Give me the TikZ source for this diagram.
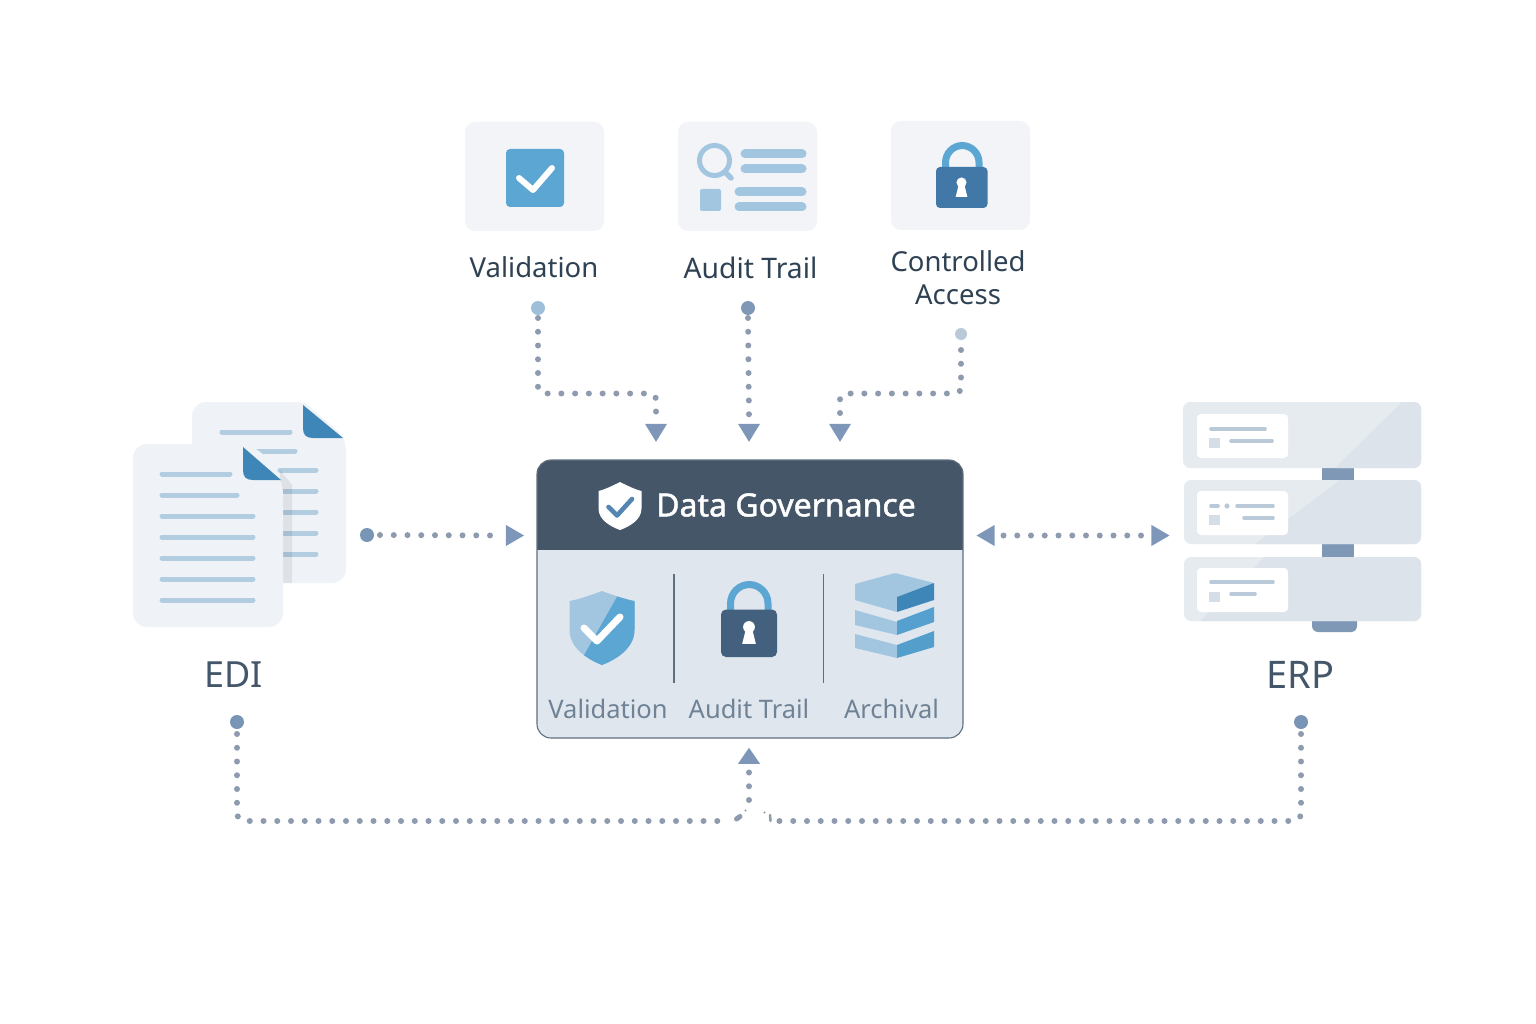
\documentclass[tikz,border=0pt]{standalone}
\usepackage{fontspec}
\setmainfont{Noto Sans}
\newfontfamily\govfont{Noto Sans}[FakeBold=1.4]
\usetikzlibrary{shapes.geometric}
\definecolor{cardc}{HTML}{F2F4F8}
\definecolor{dotc}{HTML}{8E9BAE}
\definecolor{arrc}{HTML}{7E97B8}
\definecolor{blueA}{HTML}{5BA6D3}
\definecolor{blueB}{HTML}{A3C6E0}
\definecolor{blueC}{HTML}{4278A8}
\definecolor{blueD}{HTML}{3F86B8}
\definecolor{darkh}{HTML}{445668}
\definecolor{bodyc}{HTML}{DFE6EE}
\definecolor{lockd}{HTML}{44607F}
\definecolor{txtA}{HTML}{2F4254}
\definecolor{txtB}{HTML}{44566A}
\definecolor{txtC}{HTML}{708295}
\definecolor{pagec}{HTML}{EFF3F7}
\definecolor{linec}{HTML}{B3CDE0}
\definecolor{rackA}{HTML}{E6EBF0}
\definecolor{rackB}{HTML}{DCE3EA}
\definecolor{rackl}{HTML}{B9C9D8}
\definecolor{racks}{HTML}{D5DEE7}
\definecolor{rackc}{HTML}{7F98B6}
\tikzset{
  dotline/.style={draw=dotc,line width=6pt,line cap=round,dash pattern=on 0pt off 13.75pt},
  tri/.style={isosceles triangle,isosceles triangle stretches,fill=arrc,draw=none,inner sep=0pt,minimum width=22pt,minimum height=18pt},
  tridown/.style={tri,shape border rotate=-90},
  triup/.style={tri,shape border rotate=90,minimum height=16pt},
  trileft/.style={tri,shape border rotate=180,minimum width=21pt},
  triright/.style={tri,shape border rotate=0,minimum width=21pt},
  pt/.style={circle,draw=none,inner sep=0pt,minimum size=#1},
  lbl/.style={inner sep=0pt,font=\fontsize{27.5}{32.5}\selectfont,text=txtA,align=center},
  inl/.style={inner sep=0pt,font=\fontsize{25.5}{30}\selectfont,text=txtC},
  big/.style={inner sep=0pt,font=\fontsize{36}{40}\selectfont,text=txtB},
  bar/.style={line cap=round,line width=#1},
  iconcard/.style={fill=cardc,rounded corners=10pt},
  paper/.style={fill=pagec},
  docline/.style={draw=linec,line width=5pt,line cap=round},
  rackline/.style={draw=rackl,line width=3.6pt,line cap=round},
}
\newcommand{\shieldpath}[5]{% cx top halfw shoulder bottom
  (#1,#2) .. controls ({#1+0.45*#3},{#2+0.55*(#4-#2)}) and ({#1+0.8*#3},{#2+0.9*(#4-#2)}) .. ({#1+#3},#4)
  -- ({#1+#3},{#4+0.45*(#5-#4)}) .. controls ({#1+#3},{#4+0.75*(#5-#4)}) and ({#1+0.4*#3},{#4+0.92*(#5-#4)}) .. (#1,#5)
  .. controls ({#1-0.4*#3},{#4+0.92*(#5-#4)}) and ({#1-#3},{#4+0.75*(#5-#4)}) .. ({#1-#3},{#4+0.45*(#5-#4)})
  -- ({#1-#3},#4) .. controls ({#1-0.8*#3},{#2+0.9*(#4-#2)}) and ({#1-0.45*#3},{#2+0.55*(#4-#2)}) .. (#1,#2) -- cycle}
\newcommand{\keyhole}[3]{% cx cy scale
  \fill[white] (#1,#2) circle[radius=#3*5.6pt];
  \fill[white] ({#1-#3*2.5},#2) -- ({#1+#3*2.5},#2) -- ({#1+#3*6.5},{#2+#3*16}) -- ({#1-#3*6.5},{#2+#3*16}) -- cycle;}
\begin{document}
\begin{tikzpicture}[x=1pt,y=-1pt]
\useasboundingbox (0,0) rectangle (1536,1024);
\fill[white] (0,0) rectangle (1536,1024);

% top cards
\fill[iconcard] (465,122) rectangle (604,231);
\fill[iconcard] (678,122) rectangle (817,231);
\fill[iconcard] (891,121) rectangle (1030,230);
% checkbox
\fill[blueA,rounded corners=4pt] (506,149) rectangle (564,207);
\draw[white,line width=6pt,line cap=round,line join=round] (519,178) -- (533,190) -- (552,168);
% audit icon
\draw[blueB,line width=5pt] (714.5,160.5) circle[radius=15pt];
\draw[blueB,bar=5.5pt] (725,172) -- (731,178);
\draw[blueB,bar=9pt] (745,154) -- (802,154);
\draw[blueB,bar=9pt] (745,169) -- (802,169);
\draw[blueB,bar=9pt] (739,192) -- (802,192);
\draw[blueB,bar=9pt] (739,207) -- (802,207);
\fill[blueB,rounded corners=2pt] (700,189) rectangle (721,211);
% top lock
\draw[blueA,line width=7pt,rounded corners=17pt] (945.5,172) -- (945.5,145.5) -- (979,145.5) -- (979,172);
\fill[blueC,rounded corners=4pt] (936,167) rectangle (987.5,208);
\keyhole{961.5}{182.5}{0.9}

% labels
\node[lbl] (lv) at (534,267.5) {Validation};
\node[lbl,font=\fontsize{28.3}{33}\selectfont] (la) at (750.5,267.5) {Audit Trail};
\node[lbl] (lc) at (958,277.5) {Controlled\\Access};

% EDI documents
\fill[paper,rounded corners=14pt] (192,583) -- (192,402) -- (303,402) -- (320,405) -- (346,438) -- (346,583) -- cycle;
\fill[white] (303,401) -- (346,401) -- (346,438) -- cycle;
\fill[blueD] (303,405) -- (343,438) -- (313,438) .. controls (306,438) and (303,435) .. (303,428) -- cycle;
\draw[docline] (222,432) -- (290,432);
\draw[docline] (250,451) -- (295,451);
\foreach \y in {470,491,512,533,554} \draw[docline] (280,\y) -- (316,\y);
\fill[black,opacity=0.07] (280,470) -- (292,485) -- (292,583) -- (280,583) -- cycle;
\fill[paper,rounded corners=14pt] (133,627) -- (133,444) -- (243,444) -- (258,447) -- (283,480) -- (283,627) -- cycle;
\fill[blueD] (243,447) -- (281,480) -- (253,480) .. controls (246,480) and (243,477) .. (243,470) -- cycle;
\draw[docline] (162,474) -- (230,474);
\draw[docline] (162,495) -- (237,495);
\foreach \y in {516,537,558,579,600} \draw[docline] (162,\y) -- (253,\y);
\node[big] (edi) at (233.5,675) {EDI};

% ERP rack
\fill[rackc] (1322,466) rectangle (1354,482);
\fill[rackc] (1322,542) rectangle (1354,558);
\fill[rackc,rounded corners=6pt] (1312,610) rectangle (1357,632);
\begin{scope}
\fill[rackA,rounded corners=7pt] (1183,402) rectangle (1421,468);
\clip[rounded corners=7pt] (1183,402) rectangle (1421,468);
\fill[rackB] (1335,468) -- (1402,402) -- (1421,402) -- (1421,468) -- cycle;
\end{scope}
\begin{scope}
\fill[rackA,rounded corners=7pt] (1184,480) rectangle (1421,544);
\clip[rounded corners=7pt] (1184,480) rectangle (1421,544);
\fill[rackB] (1255,544) -- (1340,480) -- (1421,480) -- (1421,544) -- cycle;
\end{scope}
\begin{scope}
\fill[rackA,rounded corners=7pt] (1184,557) rectangle (1421,621);
\clip[rounded corners=7pt] (1184,557) rectangle (1421,621);
\fill[rackB] (1200,621) -- (1265,557) -- (1421,557) -- (1421,621) -- cycle;
\end{scope}
\foreach \y in {414,491,568} \fill[white,rounded corners=4pt] (1197,\y) rectangle (1288,\y+44);
\draw[rackline] (1211,429) -- (1265,429);
\draw[rackline] (1231,441) -- (1272,441);
\fill[racks] (1209,438) rectangle (1220,448);
\draw[rackline] (1211,506) -- (1218,506);
\fill[rackl] (1227,506) circle[radius=2.6pt];
\draw[rackline] (1237,506) -- (1273,506);
\draw[rackline] (1244,518) -- (1273,518);
\fill[racks] (1209,515) rectangle (1220,525);
\draw[rackline] (1211,582) -- (1273,582);
\draw[rackline] (1231,594) -- (1255,594);
\fill[racks] (1209,592) rectangle (1220,602);
\node[big,font=\fontsize{38}{42}\selectfont] (erp) at (1300.5,675) {ERP};

% central box
\node[draw=none,minimum width=426pt,minimum height=278pt,inner sep=0pt] (gov) at (750,599) {};
\fill[bodyc,rounded corners=14pt] (537,460) rectangle (963,738);
\begin{scope}
\clip[rounded corners=14pt] (537,460) rectangle (963,738);
\fill[darkh] (537,460) rectangle (963,550);
\end{scope}
\draw[txtB!85!white,line width=1.1pt,rounded corners=14pt] (537,460) rectangle (963,738);
\draw[txtB!85!white,line width=1.4pt] (674,574) -- (674,683);
\draw[txtB!85!white,line width=1.4pt] (823.5,574) -- (823.5,683);
% header shield
\fill[white] \shieldpath{620}{482}{21.5}{491}{530};
\draw[blueC!90!white,line width=4.6pt,line cap=round,line join=round] (608.5,507) -- (617,515.5) -- (632,499);
\node[inner sep=0pt,font=\fontsize{32}{36}\govfont,text=white] (gt) at (786,505) {Data Governance};
% big shield
\begin{scope}
\clip \shieldpath{602}{591}{32.5}{601}{665};
\fill[blueB] (560,585) rectangle (640,670);
\fill[blueA] (618,595) -- (640,595) -- (640,670) -- (570,670) -- (583,657) -- cycle;
\end{scope}
\draw[white,line width=7pt,line cap=round,line join=round] (584,628) -- (597,641) -- (620,617);
% center lock
\draw[blueA,line width=7pt,rounded corners=19pt] (730.5,615) -- (730.5,584.5) -- (768,584.5) -- (768,615);
\fill[lockd,rounded corners=5pt] (721,609.5) rectangle (777,657);
\keyhole{749}{627}{1.05}
% stack
\fill[blueB,rounded corners=1pt] (855,584) -- (895,573) -- (934,583) -- (897,597) -- (897,612) -- (855,600) -- cycle;
\fill[blueD] (897,597) -- (934,583) -- (934,600) -- (897,612) -- cycle;
\fill[blueB] (855,610) -- (897,622) -- (897,635) -- (855,625) -- cycle;
\fill[blueA!80!blueD] (897,621) -- (934,607) -- (934,622) -- (897,635) -- cycle;
\fill[blueB] (855,634) -- (897,645) -- (897,658) -- (855,648) -- cycle;
\fill[blueA!75!blueD] (897,645) -- (934,631) -- (934,647) -- (897,658) -- cycle;
\node[inl] (iv) at (608,709) {Validation};
\node[inl] (ia) at (749,709) {Audit Trail};
\node[inl] (ic) at (891.5,709) {Archival};

% connector end markers
\node[pt=14pt,fill=blueB!85!rackc] (d1) at (538,308) {};
\node[pt=14pt,fill=rackc] (d2) at (748,308) {};
\node[pt=12pt,fill=rackl] (d3) at (961,334) {};
\node[pt=14pt,fill=rackc!90!blueC] (d4) at (367,535) {};
\node[pt=14pt,fill=rackc!90!blueC] (d5) at (237,722) {};
\node[pt=14pt,fill=rackc!90!blueC] (d6) at (1301,722) {};
\node[tridown] (t1) at (656,430) {};
\node[tridown] (t2) at (749,430) {};
\node[tridown] (t3) at (840,430) {};
\node[triright] (t4) at (512,535.5) {};
\node[trileft] (t5) at (988.5,535.5) {};
\node[triright] (t6) at (1157.5,535.5) {};
\node[triup] (t7) at (749,758) {};
\coordinate (m1) at (600,393.5);
\coordinate (m3) at (900,393.5);
\coordinate (m5) at (500,821);
\coordinate (m6) at (1000,821);
\coordinate (j1) at (730,821);
\coordinate (j2) at (779,821);
\coordinate (j3) at (749,800);

% connectors
\draw[dotline,rounded corners=6pt] ([yshift=-10pt]d1.center) -- (d1.center |- m1) -- (t1.center |- m1) -- ([yshift=12pt]t1.center);
\draw[dotline] ([yshift=-10pt]d2.center) -- ([yshift=12pt]t2.center);
\draw[dotline,rounded corners=6pt] ([yshift=-16pt]d3.center) -- (d3.center |- m3) -- (t3.center |- m3) -- ([yshift=12pt]t3.center);
\draw[dotline] ([xshift=13pt]d4.center) -- ([xshift=-10pt]t4.center);
\draw[dotline] ([xshift=15pt]t5.center) -- ([xshift=-10pt]t6.center);
\draw[dotline,rounded corners=8pt] ([yshift=-12pt]d5.center) -- (d5.center |- m5) -- (j1);
\draw[dotline,rounded corners=8pt] ([yshift=-12pt]d6.center) -- (d6.center |- m6) -- (j2);
\draw[dotline] (j3) -- ([yshift=-11pt]t7.center);
\draw[draw=dotc,line width=5pt,line cap=round] (736.5,819) -- (740,816.5);
\fill[dotc] (745.5,810.5) circle[radius=1.2pt];
\fill[dotc] (764.5,812.5) circle[radius=1.2pt];
\draw[draw=dotc,line width=2.5pt,line cap=round] (770,815) -- (770.5,821);
\end{tikzpicture}
\end{document}
